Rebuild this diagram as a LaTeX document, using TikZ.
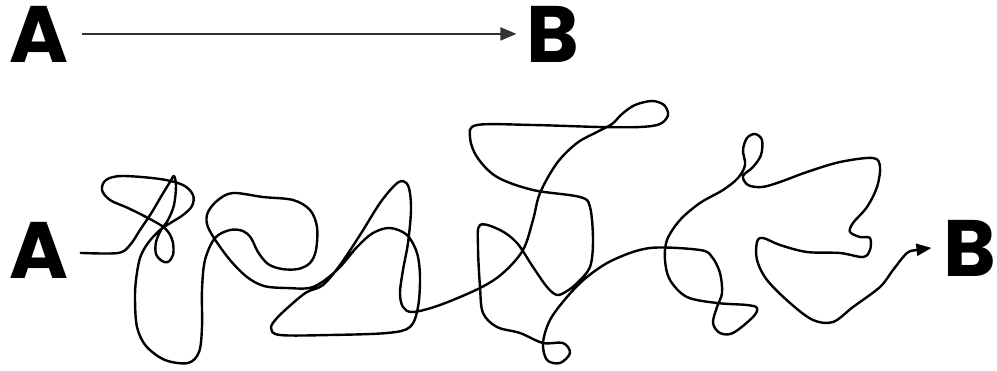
\documentclass[tikz,border=0pt]{standalone}
\usepackage{fontspec}
\newfontfamily\labfont{Poppins}
\usetikzlibrary{arrows.meta}
\tikzset{
  lab/.style={inner sep=0pt, anchor=base, font=\labfont\bfseries\fontsize{80}{80}\selectfont},
  straight/.style={line width=2pt, draw=black!80, -{Triangle[length=16pt,width=13pt]}},
  wiggle/.style={line width=2.4pt, draw=black, line join=round, line cap=round,
    -{Triangle[length=15pt,width=12pt]}},
}
\begin{document}
\begin{tikzpicture}[x=1pt,y=-1pt]
\useasboundingbox (0,0) rectangle (997,370);
\node[lab] (A1) at (39,62) {A};
\node[lab] (B1) at (553,62) {B};
\node[lab] (A2) at (39,278) {A};
\node[lab] (B2) at (970,276) {B};
\draw[straight, shorten <=13pt, shorten >=10pt] (A1) -- (B1);
\coordinate (s) at ([xshift=12pt,yshift=-3pt]A2.east);
\coordinate (e) at ([xshift=-12pt]B2.west);
\draw[wiggle] plot[smooth, tension=0.55] coordinates {
(s) (118,253) (130,245) (140,230) (152,212) (162,195) (170,182) (174,176)
(176,186) (174,205) (168,220) (161,230) (156,242) (156,254) (162,261) (168,262)
(173,255) (173,243) (169,233) (162,226) (148,218) (128,208) (110,200) (102,190)
(106,180) (122,176) (160,179) (183,185) (193,195) (192,206) (183,215) (172,222)
(160,230) (148,243) (140,258) (136,280) (135,300) (137,327) (146,346) (165,360)
(188,363) (199,352) (202,327) (202,290) (205,260) (215,238) (230,230) (243,231)
(251,238) (258,252) (268,264) (282,269) (298,269) (310,263) (316,250) (317,227)
(310,210) (293,200) (263,197) (233,193) (218,200) (208,212) (207,224) (214,238)
(230,260) (247,277) (264,286) (287,288) (313,287)
(337,270) (357,247) (373,233) (390,228) (407,235) (417,253) (420,277) (418,307)
(410,327) (387,333) (330,335) (280,335) (271,328) (277,318) (293,303) (307,292)
(323,285) (340,265) (360,235) (380,203) (395,185) (403,181) (409,188) (411,210)
(408,243) (403,270) (400,293) (403,307) (413,312) (440,305) (480,288) (503,273)
(523,250) (533,220) (540,193) (557,163) (577,143) (597,132) (612,124) (622,114)
(635,105) (652,101) (664,105) (668,115) (660,124) (640,127) (600,127) (533,125)
(477,125) (470,137) (477,157) (497,177) (533,190) (580,197) (590,207) (593,240)
(590,267) (577,283) (567,291) (557,295) (547,287) (533,267) (517,243) (500,230)
(480,225) (478,247) (480,287) (483,313) (497,327) (520,333) (543,343) (563,343)
(570,353) (560,363) (547,360) (543,343) (550,320) (567,297) (587,277) (613,260)
(650,248) (700,250) (712,257) (720,273) (722,293) (717,307) (713,323) (720,333)
(733,333) (753,317) (757,308) (747,305) (717,303) (687,297) (670,280) (665,260)
(667,240) (680,220) (700,203) (723,190) (738,178) (745,165) (743,150) (747,138)
(755,134) (762,140) (761,155) (753,167) (743,176) (748,185) (762,187) (780,182)
(807,172) (840,162) (873,158) (880,167) (877,187) (867,207) (853,223) (850,232)
(860,237) (870,238) (870,250) (863,257) (840,253) (807,252) (780,245) (763,238)
(757,242) (757,260) (767,280) (790,303) (813,320) (833,322) (853,307) (880,287)
(893,270) (907,253) (917,250) (e)
};
\end{tikzpicture}
\end{document}
